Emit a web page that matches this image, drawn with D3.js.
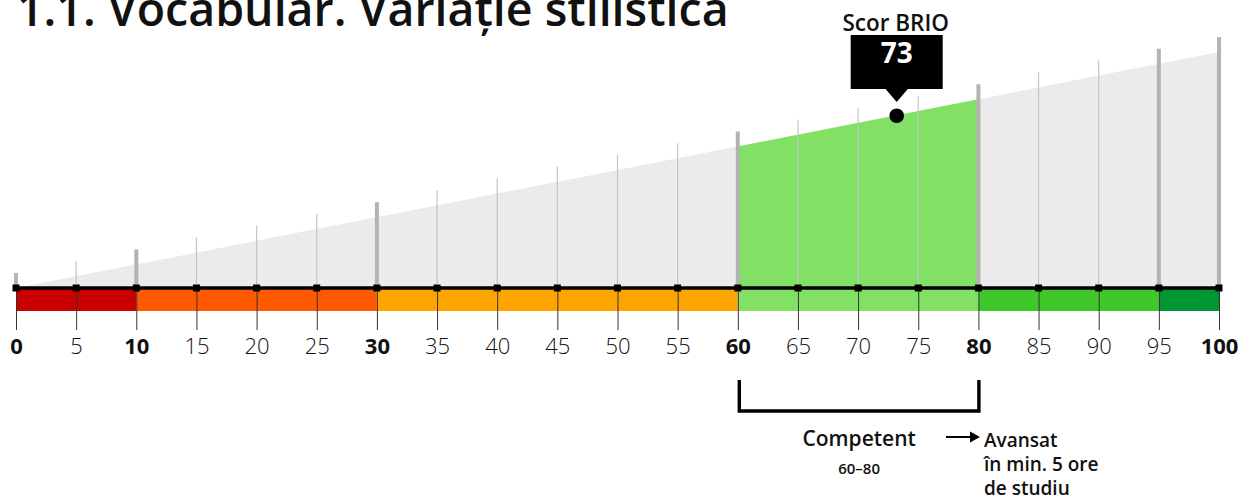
<!DOCTYPE html>
<html>
<head>
<meta charset="utf-8">
<script src="https://cdn.jsdelivr.net/npm/d3@7"></script>
<style>
  html, body { margin: 0; padding: 0; background: #fff; }
  svg { display: block; font-family: "Open Sans", "Noto Sans", sans-serif; }
</style>
</head>
<body>
<svg id="chart" width="1240" height="499"></svg>
<script>
// ---- data ----
const title = "1.1. Vocabular. Variație stilistică";
const tickValues = [0,5,10,15,20,25,30,35,40,45,50,55,60,65,70,75,80,85,90,95,100];
const boldTicks = [0,10,30,60,80,100];
const majorLines = [0,10,30,60,80,95,100];
const bandStarts = [0,10,30,60,80,95];
const bandEnds   = [10,30,60,80,95,100];
const bandColors = ["#c80000","#ff5a00","#ffa500","#82e065","#40c82a","#009632"];
const scoreLabel = "Scor BRIO";
const score = 73;
const levelStart = 60;
const levelEnd = 80;
const levelName = "Competent";
const levelRange = "60–80";
const nextLevelLines = ["Avansat", "în min. 5 ore", "de studiu"];

// ---- layout ----
const svg = d3.select("#chart");
const x = d3.scaleLinear().domain([0,100]).range([16,1219]);
const axisY = 288;
// wedge height scale: value -> y of wedge top
const h = d3.scaleLinear().domain([0,100]).range([axisY, 52]);

// title
svg.append("text").attr("x",17).attr("y",26)
  .attr("font-size",46.5).attr("font-weight",600).attr("fill","#111")
  .text(title);

// grey wedge
const area = d3.area().x(d=>x(d)).y0(axisY).y1(d=>h(d));
svg.append("path").datum([0,100]).attr("d",area).attr("fill","#ebebeb");
// green level wedge
svg.append("path").datum([levelStart,levelEnd]).attr("d",area).attr("fill","#82e065");

// vertical grid lines
svg.selectAll("line.grid").data(tickValues).join("line")
  .attr("class","grid")
  .attr("x1",d=>x(d)).attr("x2",d=>x(d))
  .attr("y1",axisY).attr("y2",d=>h(d)-15)
  .attr("stroke",d=>majorLines.includes(d)?"#b3b3b3":"#c4c4c4")
  .attr("stroke-width",d=>majorLines.includes(d)?4:1.2);

// colour bands
svg.selectAll("rect.band").data(bandStarts).join("rect")
  .attr("class","band")
  .attr("x",d=>x(d)).attr("y",axisY+1)
  .attr("width",(d,i)=>x(bandEnds[i])-x(d)).attr("height",22)
  .attr("fill",(d,i)=>bandColors[i]);

// axis below
const axis = d3.axisBottom(x).tickValues(tickValues).tickSize(42).tickPadding(8)
  .tickFormat(d3.format("d"));
const g = svg.append("g").attr("transform",`translate(0,${axisY})`).call(axis);
g.select(".domain").remove();
g.selectAll(".tick line").attr("stroke","#333").attr("stroke-width",1);
g.selectAll(".tick text")
  .attr("font-family","'Open Sans', sans-serif")
  .attr("font-size",22).attr("fill","#111")
  .attr("font-weight",d=>boldTicks.includes(d)?700:300)
  .attr("dy","0.71em").attr("y",50);

// black axis line
svg.append("line").attr("x1",x(0)-1).attr("x2",x(100)+2)
  .attr("y1",axisY).attr("y2",axisY).attr("stroke","#000").attr("stroke-width",3.5);
// square markers
svg.selectAll("rect.mk").data(tickValues).join("rect")
  .attr("class","mk")
  .attr("x",d=>x(d)-3.5).attr("y",axisY-3.5).attr("width",7).attr("height",7)
  .attr("fill","#000");

// score marker
const sx = x(score)+2.5, sy = h(score);
svg.append("circle").attr("cx",sx).attr("cy",sy).attr("r",7.3).attr("fill","#000");
svg.append("rect").attr("x",sx-46).attr("y",35).attr("width",92).attr("height",54).attr("fill","#000");
svg.append("path").attr("d",`M${sx-12},88 L${sx+12},88 L${sx},102 Z`).attr("fill","#000");
svg.append("text").attr("x",sx).attr("y",63).attr("text-anchor","middle")
  .attr("font-size",28).attr("font-weight",700).attr("fill","#fff").text(score);
svg.append("text").attr("x",sx-1).attr("y",31).attr("text-anchor","middle")
  .attr("font-size",22.5).attr("font-weight",600).attr("fill","#111").text(scoreLabel);

// bracket
const bx1 = x(levelStart)+1.5, bx2 = x(levelEnd)+0.5;
svg.append("path").attr("d",`M${bx1},380 L${bx1},411 L${bx2},411 L${bx2},380`)
  .attr("fill","none").attr("stroke","#000").attr("stroke-width",3.4);

const cx = (x(levelStart)+x(levelEnd))/2 + 1;
svg.append("text").attr("x",cx).attr("y",446).attr("text-anchor","middle")
  .attr("font-size",21).attr("font-weight",600).attr("fill","#111").text(levelName);
svg.append("text").attr("x",cx).attr("y",474).attr("text-anchor","middle")
  .attr("font-size",15).attr("font-weight",600).attr("fill","#111").text(levelRange);

// arrow
svg.append("line").attr("x1",946).attr("x2",972).attr("y1",437).attr("y2",437)
  .attr("stroke","#000").attr("stroke-width",2);
svg.append("path").attr("d","M970,431.5 L980,437 L970,442.5 Z").attr("fill","#000");
svg.append("text").attr("x",984).attr("font-size",19).attr("font-weight",600).attr("fill","#111")
  .selectAll("tspan").data(nextLevelLines).join("tspan")
  .attr("x",984).attr("y",(d,i)=>447+i*24).text(d=>d);
</script>
</body>
</html>
